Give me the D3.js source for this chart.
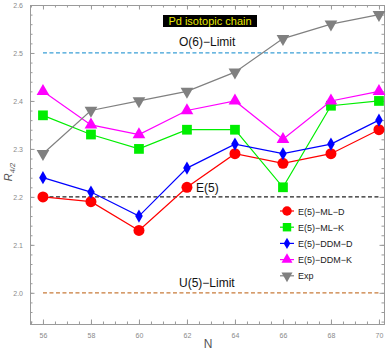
<!DOCTYPE html>
<html>
<head>
<meta charset="utf-8">
<script src="https://cdn.jsdelivr.net/npm/d3@7"></script>
<style>
  body { margin: 0; background: #fff; }
  svg { display: block; font-family: "Liberation Sans", Arial, sans-serif; }
</style>
</head>
<body>
<div class="chart"></div>
<script>
var width = 387;
var height = 354;

// data
var nValues = [56, 58, 60, 62, 64, 66, 68, 70];
var mlD  = [2.20, 2.19, 2.13, 2.22, 2.29, 2.27, 2.29, 2.34];
var mlK  = [2.37, 2.33, 2.30, 2.34, 2.34, 2.22, 2.39, 2.40];
var ddmD = [2.24, 2.21, 2.16, 2.26, 2.31, 2.29, 2.31, 2.36];
var ddmK = [2.42, 2.35, 2.33, 2.38, 2.40, 2.32, 2.40, 2.42];
var expt = [2.29, 2.38, 2.40, 2.42, 2.46, 2.53, 2.56, 2.58];
var yTicks = [2.0, 2.1, 2.2, 2.3, 2.4, 2.5, 2.6];

var series = [
  { name: "E(5)\u2212ML\u2212D",  values: mlD,  color: "#ff0000", symbol: d3.symbolCircle,   size: 95 },
  { name: "E(5)\u2212ML\u2212K",  values: mlK,  color: "#00ee00", symbol: d3.symbolSquare,   size: 95 },
  { name: "E(5)\u2212DDM\u2212D", values: ddmD, color: "#0000ff", symbol: d3.symbolDiamond,  size: 50 },
  { name: "E(5)\u2212DDM\u2212K", values: ddmK, color: "#ff00ff", symbol: d3.symbolTriangle, size: 70 },
  { name: "Exp",                  values: expt, color: "#808080", symbol: d3.symbolTriangle, size: 70, flip: true }
];

var limits = [
  { label: "O(6)\u2212Limit", value: 2.5, color: "#3a9fd6", lx: 179, ly: 46 },
  { label: "E(5)",            value: 2.2, color: "#222222", lx: 196, ly: 192 },
  { label: "U(5)\u2212Limit", value: 2.0, color: "#c87b3a", lx: 179, ly: 287 }
];

var frame = { left: 30, right: 384, top: 5, bottom: 324 };

var x = d3.scaleLinear().domain([55.46, 70.21]).range([frame.left, frame.right]);
var y = d3.scaleLinear().domain([1.935, 2.6]).range([frame.bottom, frame.top]);

var svg = d3.select(".chart").append("svg")
    .attr("width", width)
    .attr("height", height);

var axisColor = "#9a9a9a";

function styleAxis(g) {
  g.select(".domain").attr("stroke", axisColor);
  g.selectAll(".tick line").attr("stroke", axisColor);
  g.selectAll(".tick text").attr("fill", "#8a8a8a").style("font-size", "7px");
}

// major + minor ticks on all four sides (Mathematica frame)
var xMinor = d3.range(55.5, 70.21, 0.5);
var yMinor = d3.range(1.94, 2.601, 0.02);

svg.append("g").attr("transform", "translate(0," + frame.bottom + ")")
  .call(d3.axisBottom(x).tickValues(xMinor).tickSize(-2.5).tickFormat(""))
  .call(styleAxis);
svg.append("g").attr("transform", "translate(0," + frame.bottom + ")")
  .call(d3.axisBottom(x).tickValues(nValues).tickSize(-4.5).tickPadding(9).tickSizeOuter(0).tickFormat(d3.format("d")))
  .call(styleAxis);

svg.append("g").attr("transform", "translate(0," + frame.top + ")")
  .call(d3.axisTop(x).tickValues(xMinor).tickSize(-2.5).tickFormat(""))
  .call(styleAxis);
svg.append("g").attr("transform", "translate(0," + frame.top + ")")
  .call(d3.axisTop(x).tickValues(nValues).tickSize(-4.5).tickSizeOuter(0).tickFormat(""))
  .call(styleAxis);

svg.append("g").attr("transform", "translate(" + frame.left + ",0)")
  .call(d3.axisLeft(y).tickValues(yMinor).tickSize(-2.5).tickFormat(""))
  .call(styleAxis);
svg.append("g").attr("transform", "translate(" + frame.left + ",0)")
  .call(d3.axisLeft(y).tickValues(yTicks).tickSize(-4.5).tickPadding(7).tickSizeOuter(0).tickFormat(d3.format(".1f")))
  .call(styleAxis);

svg.append("g").attr("transform", "translate(" + frame.right + ",0)")
  .call(d3.axisRight(y).tickValues(yMinor).tickSize(-2.5).tickFormat(""))
  .call(styleAxis);
svg.append("g").attr("transform", "translate(" + frame.right + ",0)")
  .call(d3.axisRight(y).tickValues(yTicks).tickSize(-4.5).tickSizeOuter(0).tickFormat(""))
  .call(styleAxis);

// reference limits
limits.forEach(function (l) {
  svg.append("line")
    .attr("x1", x(56)).attr("x2", x(70))
    .attr("y1", y(l.value)).attr("y2", y(l.value))
    .attr("stroke", l.color)
    .attr("stroke-width", 1.3)
    .attr("stroke-dasharray", "4,2.5");
  svg.append("text")
    .attr("x", l.lx).attr("y", l.ly)
    .style("font-size", "12px")
    .attr("fill", "#111")
    .text(l.label);
});

// series
var line = d3.line()
  .x(function (d, i) { return x(nValues[i]); })
  .y(function (d) { return y(d); });

series.forEach(function (s) {
  svg.append("path")
    .attr("d", line(s.values))
    .attr("fill", "none")
    .attr("stroke", s.color)
    .attr("stroke-width", 1.2);
});

series.forEach(function (s) {
  svg.append("g").selectAll("path")
    .data(s.values)
    .enter().append("path")
    .attr("d", d3.symbol().type(s.symbol).size(s.size))
    .attr("transform", function (d, i) {
      return "translate(" + x(nValues[i]) + "," + y(d) + ")" + (s.flip ? " rotate(180)" : "");
    })
    .attr("fill", s.color);
});

// title box
var title = svg.append("g");
title.append("rect")
  .attr("x", 163).attr("y", 15)
  .attr("width", 94).attr("height", 12)
  .attr("fill", "#000");
title.append("text")
  .attr("x", 210).attr("y", 25)
  .attr("text-anchor", "middle")
  .attr("fill", "#e6e600")
  .style("font-size", "11px")
  .text("Pd isotopic chain");

// legend
var legend = svg.append("g").attr("transform", "translate(287,211)");
var item = legend.selectAll("g")
  .data(series)
  .enter().append("g")
  .attr("transform", function (d, i) { return "translate(0," + (i * 16.2) + ")"; });
item.append("line")
  .attr("x1", -7).attr("x2", 7)
  .attr("stroke", function (d) { return d.color; })
  .attr("stroke-width", 1.2);
item.append("path")
  .attr("d", function (d) { return d3.symbol().type(d.symbol).size(d.size * 0.75)(); })
  .attr("transform", function (d) { return d.flip ? "rotate(180)" : null; })
  .attr("fill", function (d) { return d.color; });
item.append("text")
  .attr("x", 11).attr("y", 3.5)
  .style("font-size", "9px")
  .attr("fill", "#222")
  .text(function (d) { return d.name; });

// axis titles
var ylab = svg.append("text")
  .attr("transform", "translate(12,172) rotate(-90)")
  .attr("text-anchor", "middle")
  .attr("fill", "#555")
  .style("font-size", "11px")
  .style("font-style", "italic");
ylab.append("tspan").text("R");
ylab.append("tspan").attr("dy", 2.5).style("font-size", "7.5px").text("4/2");

svg.append("text")
  .attr("x", 208).attr("y", 348)
  .attr("text-anchor", "middle")
  .attr("fill", "#555")
  .style("font-size", "12px")
  .text("N");
</script>
</body>
</html>
